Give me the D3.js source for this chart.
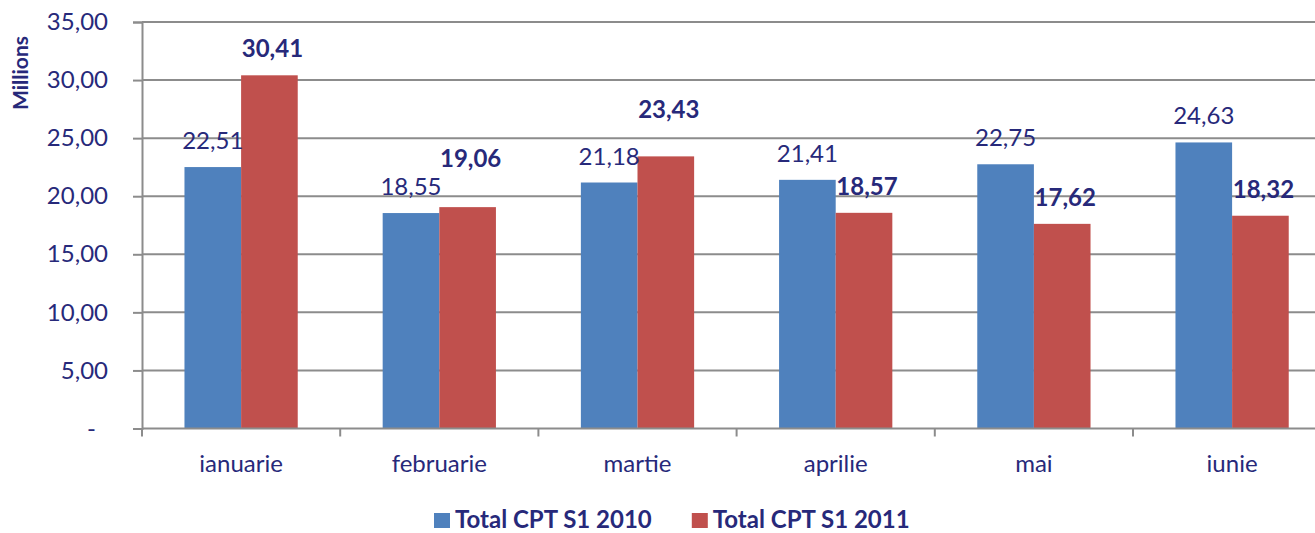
<!DOCTYPE html>
<html>
<head>
<meta charset="utf-8">
<script src="https://cdn.jsdelivr.net/npm/d3@7"></script>
<style>
  body { margin: 0; background: #fff; }
  svg { display: block; font-family: Lato, "Liberation Sans", sans-serif; }
</style>
</head>
<body>
<div id="chart"></div>
<script>
const months = ["ianuarie", "februarie", "martie", "aprilie", "mai", "iunie"];
const seriesNames = ["Total CPT S1 2010", "Total CPT S1 2011"];
const values2010 = [22.51, 18.55, 21.18, 21.41, 22.75, 24.63];
const values2011 = [30.41, 19.06, 23.43, 18.57, 17.62, 18.32];
const yTicks = [0, 5, 10, 15, 20, 25, 30, 35];

const width = 1315, height = 533;
const margin = {top: 22, left: 142, bottom: 104};
const textColor = "#27297a";
const gridColor = "#8c8c8c";
const colors = ["#4f81bd", "#c0504d"];
// extra lift (px) for the 2011 labels that Excel moved up to avoid overlap
const redLabelLift = [0, 22, 20, 0, 0, 0];

const fmt = v => v.toFixed(2).replace(".", ",");

const svg = d3.select("#chart")
  .append("svg")
  .attr("width", width)
  .attr("height", height);

const bandStep = 198.2;
const xScale = d3.scaleBand()
  .domain(months)
  .range([margin.left, margin.left + bandStep * months.length]);

const xInner = d3.scaleBand()
  .domain(seriesNames)
  .range([0, xScale.bandwidth()])
  .paddingOuter(0.75);

const yScale = d3.scaleLinear()
  .domain([0, 35])
  .range([height - margin.bottom - 0.5, margin.top]);

// gridlines
svg.append("g")
  .selectAll("line")
  .data(yTicks.filter(d => d > 0))
  .join("line")
  .attr("x1", margin.left)
  .attr("x2", width)
  .attr("y1", d => yScale(d))
  .attr("y2", d => yScale(d))
  .attr("stroke", gridColor)
  .attr("stroke-width", 2);

// y axis
const yAxis = d3.axisLeft(yScale)
  .tickValues(yTicks)
  .tickSize(9)
  .tickPadding(25)
  .tickFormat(d => d === 0 ? "-" : fmt(d));

const yG = svg.append("g")
  .attr("transform", `translate(${margin.left},0)`)
  .call(yAxis);
yG.select(".domain").attr("stroke", gridColor).attr("stroke-width", 2);
yG.selectAll(".tick line").attr("stroke", gridColor).attr("stroke-width", 2);
yG.selectAll(".tick text")
  .attr("fill", textColor)
  .attr("font-size", 24)
  .attr("font-family", "Lato, 'Liberation Sans', sans-serif")
  .attr("dx", d => d === 0 ? -12 : 0);

svg.append("text")
  .attr("transform", `translate(28,73) rotate(-90)`)
  .attr("text-anchor", "middle")
  .attr("font-weight", "bold")
  .attr("font-size", 21)
  .attr("fill", textColor)
  .text("Millions");

// bars
const groups = svg.append("g")
  .selectAll("g")
  .data(months)
  .join("g")
  .attr("transform", d => `translate(${xScale(d)},0)`);

const seriesVals = [values2010, values2011];

groups.selectAll("rect")
  .data((m, i) => seriesNames.map((s, j) => ({s, j, v: seriesVals[j][i]})))
  .join("rect")
  .attr("x", d => xInner(d.s))
  .attr("width", xInner.bandwidth())
  .attr("y", d => yScale(d.v))
  .attr("height", d => yScale(0) - yScale(d.v))
  .attr("fill", d => colors[d.j]);

// value labels
groups.selectAll("text")
  .data((m, i) => seriesNames.map((s, j) => ({s, j, i, v: seriesVals[j][i]})))
  .join("text")
  .attr("x", d => xInner(d.s) + xInner.bandwidth() / 2 + (d.j === 1 ? 3 : 0))
  .attr("y", d => yScale(d.v) - 18 - (d.j === 1 ? redLabelLift[d.i] : 0))
  .attr("text-anchor", "middle")
  .attr("font-size", 24)
  .attr("font-weight", d => d.j === 1 ? "bold" : "normal")
  .attr("fill", textColor)
  .text(d => fmt(d.v));

// x axis
const xBase = yScale(0);
const xG = svg.append("g")
  .attr("transform", `translate(0,${xBase})`);
xG.append("line")
  .attr("x1", margin.left)
  .attr("x2", width)
  .attr("stroke", gridColor)
  .attr("stroke-width", 2);
xG.selectAll(".xtick")
  .data(months)
  .join("line")
  .attr("class", "xtick")
  .attr("x1", d => xScale(d))
  .attr("x2", d => xScale(d))
  .attr("y1", 0)
  .attr("y2", 8)
  .attr("stroke", gridColor)
  .attr("stroke-width", 2);
xG.selectAll(".xlabel")
  .data(months)
  .join("text")
  .attr("class", "xlabel")
  .attr("x", d => xScale(d) + xScale.bandwidth() / 2)
  .attr("y", 43)
  .attr("text-anchor", "middle")
  .attr("font-size", 24)
  .attr("fill", textColor)
  .text(d => d);

// legend
const legend = svg.append("g")
  .attr("transform", "translate(434,513)");
let lx = 0;
seriesNames.forEach((name, j) => {
  legend.append("rect")
    .attr("x", lx)
    .attr("y", 0)
    .attr("width", 16)
    .attr("height", 15)
    .attr("fill", colors[j]);
  const t = legend.append("text")
    .attr("x", lx + 21)
    .attr("y", 15)
    .attr("font-size", 24)
    .attr("font-weight", "bold")
    .attr("fill", textColor)
    .text(name);
  lx += 21 + t.node().getComputedTextLength() + 40;
});
</script>
</body>
</html>
